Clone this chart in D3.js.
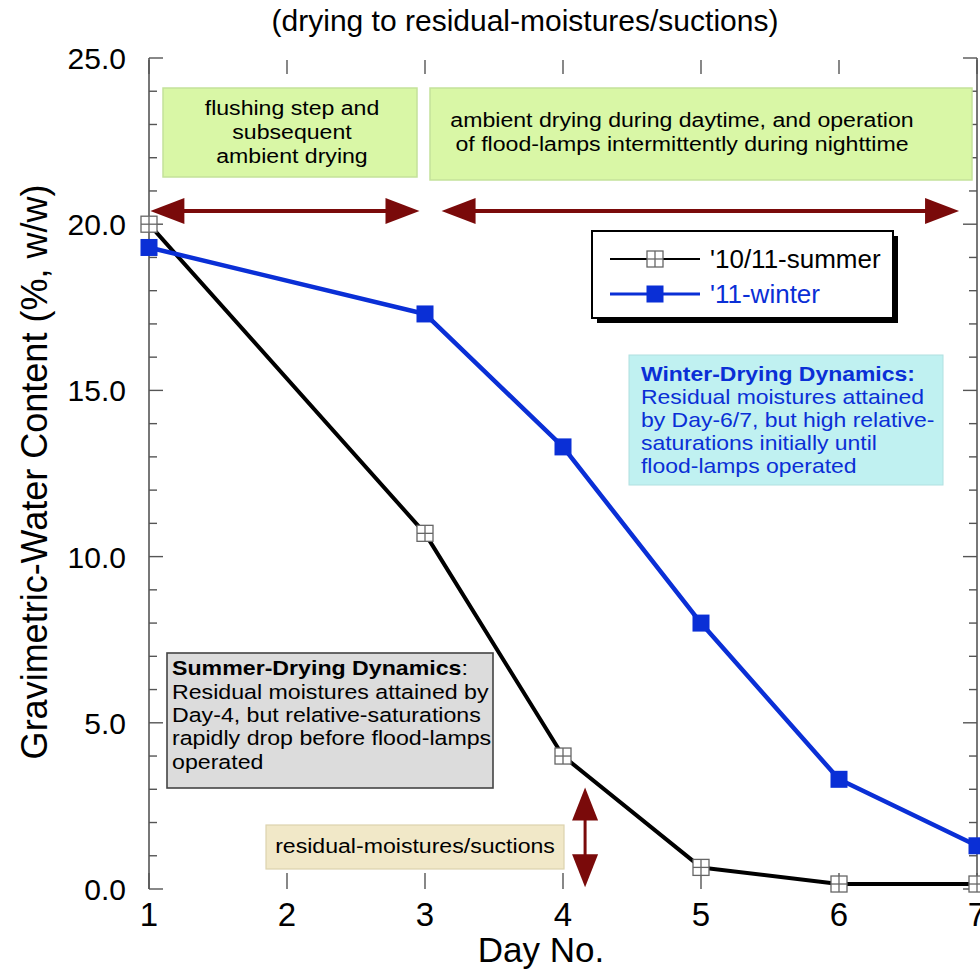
<!DOCTYPE html>
<html>
<head>
<meta charset="utf-8">
<script src="https://cdn.jsdelivr.net/npm/d3@7/dist/d3.min.js"></script>
<style>
  html, body { margin: 0; padding: 0; background: #fff; }
  svg { display: block; font-family: "Liberation Sans", Arial, Helvetica, sans-serif; }
</style>
</head>
<body>
<svg id="chart" width="980" height="971"></svg>
<script>
// Drying days and gravimetric water content (% w/w) for the two campaigns
const days = [1, 3, 4, 5, 6, 7];
const summerValues = [20.0, 10.7, 4.0, 0.65, 0.15, 0.15];
const winterValues = [19.3, 17.3, 13.3, 8.0, 3.3, 1.3];
const seriesNames = ["'10/11-summer", "'11-winter"];
const xTicks = [1, 2, 3, 4, 5, 6, 7];
const yTicks = [0, 5, 10, 15, 20, 25];

const svg = d3.select("#chart");

const x = d3.scaleLinear().domain([1, 7]).range([149, 977]);
const y = d3.scaleLinear().domain([0, 25]).range([889, 58]);

const axisColor = "#555";
const arrowRed = "#7a0a0a";
const blue = "#0a2fd6";

// ---- axes frame (left and right lines, ticks pointing inward) ----
const gAx = svg.append("g");
gAx.append("line").attr("x1", x(1)).attr("x2", x(1)).attr("y1", y(25)).attr("y2", y(0))
  .attr("stroke", axisColor).attr("stroke-width", 1.6);
gAx.append("line").attr("x1", x(7)).attr("x2", x(7)).attr("y1", y(25)).attr("y2", y(0))
  .attr("stroke", axisColor).attr("stroke-width", 1.6);

d3.range(0, 26, 1).forEach(v => {
  const len = v % 5 === 0 ? 14 : 8;
  gAx.append("line").attr("x1", x(1)).attr("x2", x(1) + len).attr("y1", y(v)).attr("y2", y(v))
    .attr("stroke", axisColor).attr("stroke-width", 1.4);
  gAx.append("line").attr("x1", x(7)).attr("x2", x(7) - len).attr("y1", y(v)).attr("y2", y(v))
    .attr("stroke", axisColor).attr("stroke-width", 1.4);
});
xTicks.forEach(v => {
  gAx.append("line").attr("x1", x(v)).attr("x2", x(v)).attr("y1", y(25) + 2).attr("y2", y(25) + 16)
    .attr("stroke", axisColor).attr("stroke-width", 1.4);
  gAx.append("line").attr("x1", x(v)).attr("x2", x(v)).attr("y1", y(0)).attr("y2", y(0) - 16)
    .attr("stroke", axisColor).attr("stroke-width", 1.4);
});

// tick labels
svg.append("g").selectAll("text").data(yTicks).join("text")
  .attr("x", 126).attr("y", d => y(d) + 11)
  .attr("text-anchor", "end").attr("font-size", 30).attr("fill", "#000")
  .text(d => d3.format(".1f")(d));
svg.append("g").selectAll("text").data(xTicks).join("text")
  .attr("x", d => x(d)).attr("y", 926)
  .attr("text-anchor", "middle").attr("font-size", 33).attr("fill", "#000")
  .text(d => d);

// axis titles and heading
svg.append("text").attr("x", 541).attr("y", 962).attr("text-anchor", "middle")
  .attr("font-size", 35).text("Day No.");
svg.append("text").attr("transform", "translate(47,472) rotate(-90)").attr("text-anchor", "middle")
  .attr("font-size", 36).text("Gravimetric-Water Content (%, w/w)");
svg.append("text").attr("x", 525).attr("y", 31).attr("text-anchor", "middle")
  .attr("font-size", 30).text("(drying to residual-moistures/suctions)");

// ---- annotation helpers ----
function box(x0, y0, x1, y1, fill, stroke, sw) {
  svg.append("rect").attr("x", x0).attr("y", y0).attr("width", x1 - x0).attr("height", y1 - y0)
    .attr("fill", fill).attr("stroke", stroke).attr("stroke-width", sw);
}
// annotation text set in a slightly wide face: a horizontally stretched group
function noteText(x0, y0, size, sx, anchor, fill) {
  return svg.append("g").attr("transform", `translate(${x0},${y0}) scale(${sx},1)`)
    .append("text").attr("x", 0).attr("y", 0).attr("font-size", size)
    .attr("text-anchor", anchor).attr("fill", fill);
}

box(163, 88, 417, 177, "#d9f7a6", "#c4e29a", 1.5);
box(430, 88, 972, 180, "#d9f7a6", "#c4e29a", 1.5);
[["flushing step and", 115], ["subsequent", 139], ["ambient drying", 163]].forEach(([t, yy]) =>
  noteText(292, yy, 21, 1.1, "middle", "#000").text(t));
[["ambient drying during daytime, and operation", 127], ["of flood-lamps intermittently during nighttime", 151]].forEach(([t, yy]) =>
  noteText(682, yy, 21, 1.1, "middle", "#000").text(t));

// double-headed arrows
function dblArrowH(xa, xb, yy) {
  const hl = 34, hw = 13;
  svg.append("line").attr("x1", xa + hl - 2).attr("x2", xb - hl + 2).attr("y1", yy).attr("y2", yy)
    .attr("stroke", arrowRed).attr("stroke-width", 4);
  svg.append("path").attr("fill", arrowRed)
    .attr("d", `M${xa},${yy} L${xa + hl},${yy - hw} L${xa + hl},${yy + hw} Z`);
  svg.append("path").attr("fill", arrowRed)
    .attr("d", `M${xb},${yy} L${xb - hl},${yy - hw} L${xb - hl},${yy + hw} Z`);
}
function dblArrowV(xx, ya, yb) {
  const hl = 33, hw = 13;
  svg.append("line").attr("x1", xx).attr("x2", xx).attr("y1", ya + hl - 2).attr("y2", yb - hl + 2)
    .attr("stroke", arrowRed).attr("stroke-width", 3);
  svg.append("path").attr("fill", arrowRed)
    .attr("d", `M${xx},${ya} L${xx - hw},${ya + hl} L${xx + hw},${ya + hl} Z`);
  svg.append("path").attr("fill", arrowRed)
    .attr("d", `M${xx},${yb} L${xx - hw},${yb - hl} L${xx + hw},${yb - hl} Z`);
}
dblArrowH(x(1.01), x(2.96), y(20.4));
dblArrowH(x(3.12), x(6.87), y(20.4));
dblArrowV(x(4.16), y(3.05), y(0.05));

// winter note
box(629, 355, 943, 485, "#c0f1f1", "#b0e0e0", 1);
noteText(641, 381, 20.5, 1.12, "start", blue).attr("font-weight", "bold").text("Winter-Drying Dynamics:");
["Residual moistures attained", "by Day-6/7, but high relative-", "saturations initially until", "flood-lamps operated"]
  .forEach((t, i) => noteText(641, 404 + i * 23, 20.5, 1.12, "start", blue).text(t));

// summer note
box(167, 653, 493, 788, "#dcdcdc", "#444", 1.6);
const s1 = noteText(172, 675, 20.5, 1.13, "start", "#000");
s1.append("tspan").attr("font-weight", "bold").text("Summer-Drying Dynamics");
s1.append("tspan").text(":");
["Residual moistures attained by", "Day-4, but relative-saturations", "rapidly drop before flood-lamps", "operated"]
  .forEach((t, i) => noteText(172, 699 + i * 23.2, 20.5, 1.13, "start", "#000").text(t));

// residual label
box(266, 825, 564, 869, "#f1e8c8", "#ddd2ae", 1.2);
noteText(415, 853, 21, 1.1, "middle", "#000").text("residual-moistures/suctions");

// ---- data series ----
const line = d3.line().x(d => x(d[0])).y(d => y(d[1]));
const summer = days.map((d, i) => [d, summerValues[i]]);
const winter = days.map((d, i) => [d, winterValues[i]]);

svg.append("path").datum(summer).attr("d", line).attr("fill", "none")
  .attr("stroke", "#000").attr("stroke-width", 4).attr("stroke-linejoin", "round");
svg.append("path").datum(winter).attr("d", line).attr("fill", "none")
  .attr("stroke", blue).attr("stroke-width", 4.5).attr("stroke-linejoin", "round");

function openMarker(g, cx, cy) {
  const s = 16;
  g.append("rect").attr("x", cx - s / 2).attr("y", cy - s / 2).attr("width", s).attr("height", s)
    .attr("fill", "#fff").attr("stroke", "#666").attr("stroke-width", 1.3);
  g.append("line").attr("x1", cx).attr("x2", cx).attr("y1", cy - s / 2).attr("y2", cy + s / 2)
    .attr("stroke", "#666").attr("stroke-width", 1.3);
  g.append("line").attr("x1", cx - s / 2).attr("x2", cx + s / 2).attr("y1", cy).attr("y2", cy)
    .attr("stroke", "#666").attr("stroke-width", 1.3);
}
function filledMarker(g, cx, cy) {
  const s = 17;
  g.append("rect").attr("x", cx - s / 2).attr("y", cy - s / 2).attr("width", s).attr("height", s)
    .attr("fill", blue);
}
const gm = svg.append("g");
summer.forEach(d => openMarker(gm, x(d[0]), y(d[1])));
winter.forEach(d => filledMarker(gm, x(d[0]), y(d[1])));

// ---- legend ----
const lg = svg.append("g");
lg.append("rect").attr("x", 597).attr("y", 236).attr("width", 301).attr("height", 87).attr("fill", "#000");
lg.append("rect").attr("x", 592).attr("y", 231).attr("width", 301).attr("height", 87)
  .attr("fill", "#fff").attr("stroke", "#000").attr("stroke-width", 2);
lg.append("line").attr("x1", 610).attr("x2", 700).attr("y1", 259).attr("y2", 259).attr("stroke", "#000").attr("stroke-width", 2);
openMarker(lg, 655, 259);
lg.append("line").attr("x1", 610).attr("x2", 700).attr("y1", 294).attr("y2", 294).attr("stroke", blue).attr("stroke-width", 3);
filledMarker(lg, 655, 294);
lg.append("text").attr("x", 710).attr("y", 268).attr("font-size", 26).attr("fill", "#000").text(seriesNames[0]);
lg.append("text").attr("x", 710).attr("y", 303).attr("font-size", 26).attr("fill", blue).text(seriesNames[1]);
</script>
</body>
</html>
